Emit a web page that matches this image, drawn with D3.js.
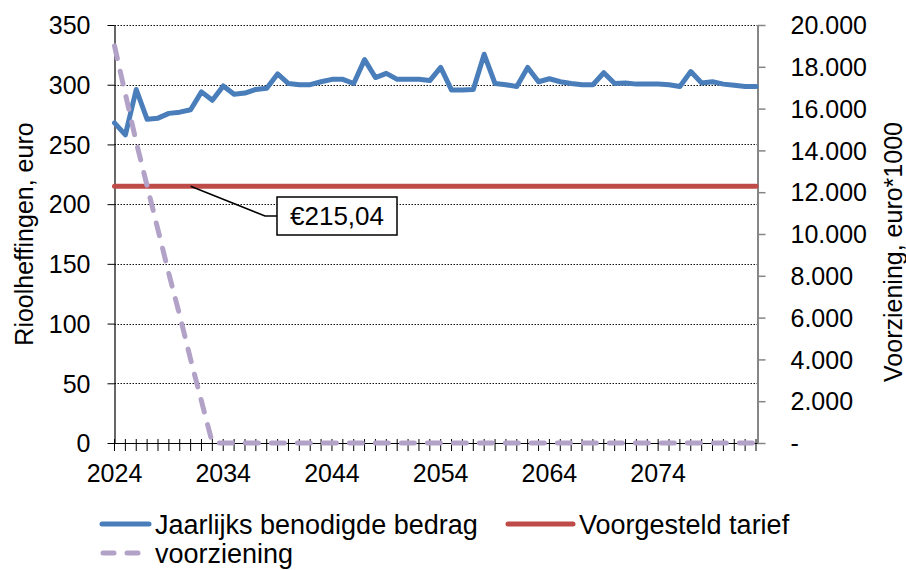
<!DOCTYPE html>
<html>
<head>
<meta charset="utf-8">
<script src="https://cdn.jsdelivr.net/npm/d3@7"></script>
<style>
  body { margin: 0; background: #fff; }
  svg text { font-family: "Liberation Sans", Arial, sans-serif; fill: #000; }
</style>
</head>
<body>
<svg id="chart" width="906" height="570"></svg>
<script>
// categories
const years = d3.range(2024, 2084);

// Jaarlijks benodigde bedrag (euro)
const benodigd = [
    268, 258, 296, 271, 272, 276, 277, 279, 294, 287,
    299, 292, 293, 296, 297, 309, 301, 300, 300, 302.5,
    304.5, 304.5, 301, 321, 306, 309.5, 304.5, 304.5, 304.5, 303.5,
    314.5, 295.5, 295.5, 296, 325.5, 301, 300, 298.5, 314.5, 302.5,
    305, 302.5, 301, 300, 300, 310, 301, 301.5, 300.5, 300.5,
    300.5, 300, 298.5, 311, 301.5, 302.5, 300.5, 299.5, 298.5, 298.5
];

// voorziening (euro*1000), right axis
const voorziening = [
    19000, 16700, 14400, 12300, 10200, 8100, 6100, 4000, 2000, 0,
    0, 0, 0, 0, 0, 0, 0, 0, 0, 0,
    0, 0, 0, 0, 0, 0, 0, 0, 0, 0,
    0, 0, 0, 0, 0, 0, 0, 0, 0, 0,
    0, 0, 0, 0, 0, 0, 0, 0, 0, 0,
    0, 0, 0, 0, 0, 0, 0, 0, 0, 0
];

// Voorgesteld tarief (euro)
const tarief = 215.04;
const tariefLabel = "€215,04";
const labelYear = 2031;

const leftTicks = [0, 50, 100, 150, 200, 250, 300, 350];
const rightTicks = d3.range(0, 20001, 2000);
const xLabelYears = [2024, 2034, 2044, 2054, 2064, 2074];

const svg = d3.select("svg#chart");

// No Magic Number !
const plotLeft = 114.5,
    plotRight = 757.5,
    plotTop = 25,
    plotBottom = 443,
    fontSize = 25,
    legendFont = 27,
    blue = "#4A7EBB",
    red = "#BE4B48",
    purple = "#B3A2C7",
    lineWidth = 5;

const x = d3.scaleLinear().domain([years[0], years[years.length - 1]]).range([plotLeft, plotRight - 1.5]);
const yL = d3.scaleLinear().domain([0, 350]).range([plotBottom, plotTop]);
const yR = d3.scaleLinear().domain([0, 20000]).range([plotBottom, plotTop]);

// gridlines (dotted)
svg.append("g")
    .selectAll("line")
    .data(leftTicks.filter(d => d > 0))
    .join("line")
    .attr("x1", plotLeft)
    .attr("x2", plotRight)
    .attr("y1", d => Math.round(yL(d)) + 0.5)
    .attr("y2", d => Math.round(yL(d)) + 0.5)
    .attr("stroke", "#111")
    .attr("stroke-width", 1)
    .attr("stroke-dasharray", "1.5,1.5");

// left axis
const leftAxis = svg.append("g")
    .attr("transform", `translate(${plotLeft},0)`)
    .call(d3.axisLeft(yL).tickValues(leftTicks).tickSize(7).tickSizeOuter(0).tickPadding(17));
leftAxis.select(".domain").attr("stroke", "#000").attr("stroke-width", 1.2);
leftAxis.selectAll(".tick line").attr("stroke", "#000");
leftAxis.selectAll("text").style("font-size", fontSize + "px").attr("dy", "0.35em");

// right axis
const rightAxis = svg.append("g")
    .attr("transform", `translate(${plotRight},0)`)
    .call(d3.axisRight(yR).tickValues(rightTicks).tickSize(8).tickSizeOuter(0).tickPadding(25)
        .tickFormat(d => d === 0 ? "-" : d3.format(",")(d).replace(/,/g, ".")));
rightAxis.select(".domain").attr("stroke", "#868686").attr("stroke-width", 2);
rightAxis.selectAll(".tick line").attr("stroke", "#868686").attr("stroke-width", 1.5);
rightAxis.selectAll("text").style("font-size", fontSize + "px").attr("dy", "0.35em");

// bottom axis: a tick for every year, crossing the axis
const bottom = svg.append("g");
bottom.append("line")
    .attr("x1", plotLeft).attr("x2", plotRight)
    .attr("y1", plotBottom + 0.5).attr("y2", plotBottom + 0.5)
    .attr("stroke", "#000").attr("stroke-width", 1.2);
bottom.selectAll("line.yt")
    .data(years)
    .join("line")
    .attr("class", "yt")
    .attr("x1", d => x(d)).attr("x2", d => x(d))
    .attr("y1", plotBottom - 4).attr("y2", plotBottom + 8)
    .attr("stroke", "#000").attr("stroke-width", 1);
bottom.selectAll("text")
    .data(xLabelYears)
    .join("text")
    .attr("x", d => x(d))
    .attr("y", plotBottom + 39)
    .attr("text-anchor", "middle")
    .style("font-size", fontSize + "px")
    .text(d => d);

// axis titles
svg.append("text")
    .attr("transform", `translate(33,${(plotTop + plotBottom) / 2}) rotate(-90)`)
    .attr("text-anchor", "middle")
    .style("font-size", fontSize + "px")
    .text("Rioolheffingen, euro");
svg.append("text")
    .attr("transform", `translate(902,252) rotate(-90)`)
    .attr("text-anchor", "middle")
    .style("font-size", fontSize + "px")
    .text("Voorziening, euro*1000");

// series
const lineL = d3.line().x((d, i) => x(years[i])).y(d => yL(d));
const lineR = d3.line().x((d, i) => x(years[i])).y(d => yR(d));

svg.append("path")
    .datum([tarief, tarief])
    .attr("d", d3.line().x((d, i) => x(i === 0 ? years[0] : years[years.length - 1])).y(d => yL(d)))
    .attr("fill", "none")
    .attr("stroke", red)
    .attr("stroke-width", lineWidth)
    .attr("stroke-linecap", "round");

svg.append("path")
    .datum(benodigd)
    .attr("d", lineL)
    .attr("fill", "none")
    .attr("stroke", blue)
    .attr("stroke-width", lineWidth)
    .attr("stroke-linejoin", "round")
    .attr("stroke-linecap", "round");

svg.append("path")
    .datum(voorziening)
    .attr("d", lineR)
    .attr("fill", "none")
    .attr("stroke", purple)
    .attr("stroke-width", lineWidth)
    .attr("stroke-dasharray", "13,13")
    .attr("stroke-linejoin", "round")
    .attr("stroke-linecap", "round");

// data label for the tariff
const lx = x(labelYear), ly = yL(tarief);
const box = { x: 277, y: 197, w: 120, h: 38 };
svg.append("polyline")
    .attr("points", `${lx},${ly} ${box.x - 12},${box.y + box.h / 2} ${box.x},${box.y + box.h / 2}`)
    .attr("fill", "none")
    .attr("stroke", "#000")
    .attr("stroke-width", 1.5);
svg.append("rect")
    .attr("x", box.x).attr("y", box.y)
    .attr("width", box.w).attr("height", box.h)
    .attr("fill", "#fff")
    .attr("stroke", "#000")
    .attr("stroke-width", 1.5);
svg.append("text")
    .attr("x", box.x + box.w / 2)
    .attr("y", box.y + box.h / 2)
    .attr("dy", "0.36em")
    .attr("text-anchor", "middle")
    .style("font-size", "26px")
    .text(tariefLabel);

// legend
const legendItems = [
    { name: "Jaarlijks benodigde bedrag", color: blue, dash: null, x1: 102, x2: 149, y: 524 },
    { name: "Voorgesteld tarief", color: red, dash: null, x1: 508, x2: 573, y: 524 },
    { name: "voorziening", color: purple, dash: "11,13", x1: 103, x2: 149, y: 553 }
];
const legend = svg.append("g");
legendItems.forEach(item => {
    legend.append("line")
        .attr("x1", item.x1).attr("x2", item.x2)
        .attr("y1", item.y).attr("y2", item.y)
        .attr("stroke", item.color)
        .attr("stroke-width", lineWidth)
        .attr("stroke-linecap", "round")
        .attr("stroke-dasharray", item.dash);
    legend.append("text")
        .attr("x", item.x2 + 6)
        .attr("y", item.y)
        .attr("dy", "0.36em")
        .style("font-size", legendFont + "px")
        .text(item.name);
});
</script>
</body>
</html>
